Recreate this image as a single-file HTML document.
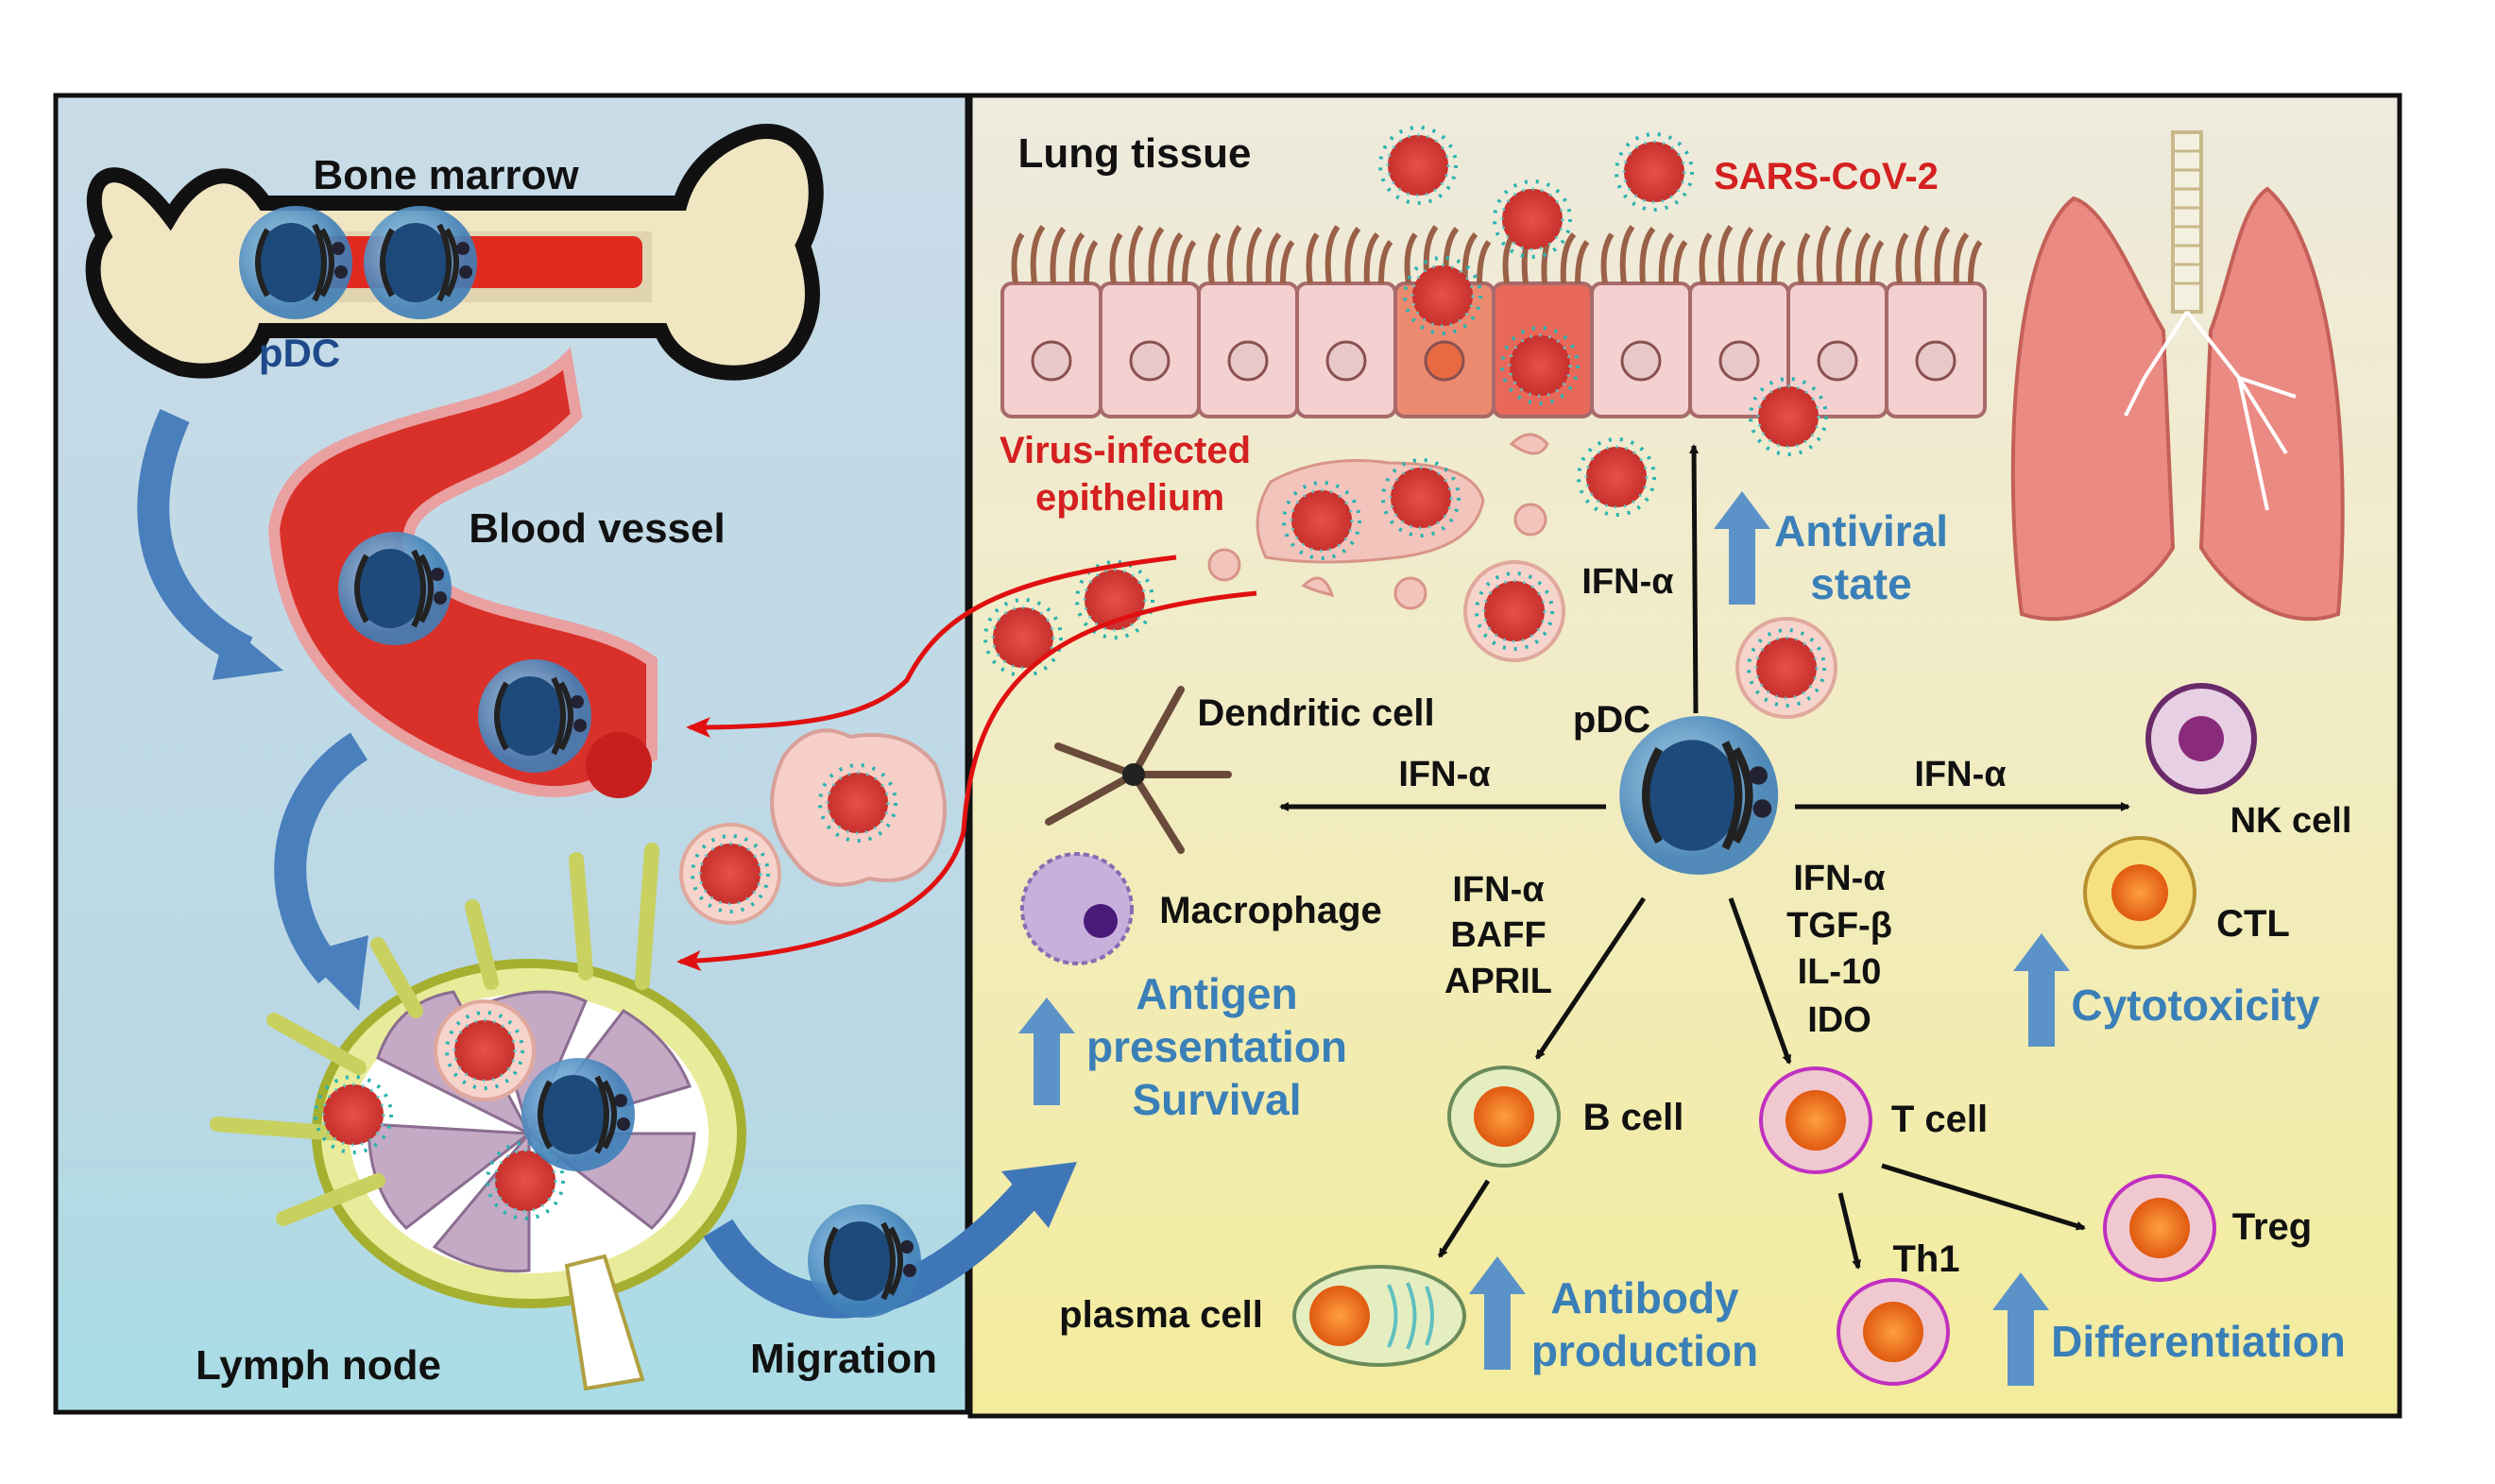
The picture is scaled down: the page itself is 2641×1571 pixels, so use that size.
<!DOCTYPE html>
<html><head><meta charset="utf-8"><style>
html,body{margin:0;padding:0;background:#fff;}
svg{display:block}
text{font-family:"Liberation Sans",sans-serif;font-weight:bold}
</style></head><body>
<svg width="2641" height="1571" viewBox="0 0 2641 1571" xmlns="http://www.w3.org/2000/svg">
<defs>
<linearGradient id="lb" x1="0" y1="0" x2="0" y2="1"><stop offset="0" stop-color="#c9dce8"/><stop offset="0.75" stop-color="#b9d8e4"/><stop offset="1" stop-color="#a9dde6"/></linearGradient>
<linearGradient id="rb" x1="0" y1="0" x2="0" y2="1"><stop offset="0" stop-color="#eeeadd"/><stop offset="0.45" stop-color="#f1ecc6"/><stop offset="1" stop-color="#f3ec9c"/></linearGradient>
<radialGradient id="vr"><stop offset="0" stop-color="#e8504a"/><stop offset="1" stop-color="#c8302c"/></radialGradient>
<g id="virus"><circle r="40" fill="none" stroke="#2bb3b0" stroke-width="4" stroke-dasharray="3 9"/><circle r="32" fill="url(#vr)"/><circle r="32" fill="none" stroke="#5cc" stroke-width="3" stroke-dasharray="2 8"/></g>
<g id="vbub"><circle r="52" fill="#f6d4cc" stroke="#e0a89c" stroke-width="4"/><use href="#virus"/></g>
<radialGradient id="pg" cx="0.4" cy="0.4"><stop offset="0" stop-color="#9fd0ee"/><stop offset="1" stop-color="#3f7fb8"/></radialGradient>
<g id="pdc"><circle r="60" fill="url(#pg)" opacity="0.9"/><ellipse cx="-5" cy="0" rx="36" ry="42" fill="#1d4a7a"/><path d="M-30 -35 Q-50 0 -30 35 M20 -40 Q40 0 20 40 M28 -35 Q48 0 28 35" stroke="#222" stroke-width="6" fill="none"/><circle cx="45" cy="-15" r="7" fill="#223"/><circle cx="48" cy="10" r="7" fill="#223"/></g>
<radialGradient id="og"><stop offset="0" stop-color="#ffa040"/><stop offset="1" stop-color="#e05a10"/></radialGradient>
<marker id="ah" markerWidth="10" markerHeight="10" refX="8" refY="5" orient="auto" markerUnits="userSpaceOnUse" viewBox="0 0 10 10"><path d="M0 0L10 5L0 10z" fill="#111"/></marker>
<marker id="ahr" markerWidth="26" markerHeight="22" refX="22" refY="11" orient="auto" markerUnits="userSpaceOnUse"><path d="M0 0L26 11L0 22L6 11z" fill="#e01010"/></marker>
<g id="barrow"><path d="M-14 0 L14 0 L14 -80 L30 -80 L0 -120 L-30 -80 L-14 -80 Z" fill="#5b93c8"/></g>
</defs>
<rect width="2641" height="1571" fill="#fff"/>
<rect x="59" y="101" width="965" height="1394" fill="url(#lb)" stroke="#111" stroke-width="5"/>
<rect x="1027" y="101" width="1513" height="1398" fill="url(#rb)" stroke="#111" stroke-width="5"/>

<!-- bone -->
<path d="M180 230 C120 150 80 190 110 250 C80 290 110 360 190 390 C240 400 270 380 280 350 L700 350 C720 400 800 410 840 370 C870 330 860 290 850 260 C880 200 860 130 800 140 C760 150 730 180 720 215 L280 215 C250 170 210 180 180 230Z" fill="#f1e6c2" stroke="#111" stroke-width="16"/>
<path d="M270 245 L690 245 L690 320 L270 320Z" fill="#c8b898" opacity="0.4"/>
<rect x="340" y="250" width="340" height="55" rx="10" fill="#e02a20"/>
<use href="#pdc" x="313" y="278"/><use href="#pdc" x="445" y="278"/>
<text x="472" y="200" font-size="44" text-anchor="middle" fill="#111">Bone marrow</text>
<text x="317" y="388" font-size="42" text-anchor="middle" fill="#1e4a8a">pDC</text>

<!-- blood vessel -->
<path d="M290 560 C300 490 360 470 420 450 C480 430 560 420 600 380 L610 440 C560 490 520 500 480 520 C440 540 420 560 440 600 C500 660 620 650 690 700 L690 800 C640 830 600 850 540 830 C420 790 300 720 290 560Z" fill="#d9302a" stroke="#e9a0a0" stroke-width="12"/>
<circle cx="655" cy="810" r="35" fill="#c81e1e"/>
<use href="#pdc" x="418" y="623"/><use href="#pdc" x="566" y="758"/>
<text x="632" y="574" font-size="44" text-anchor="middle" fill="#111">Blood vessel</text>

<path d="M185 440 C140 540 160 640 260 690" stroke="#4a7fbd" stroke-width="34" fill="none"/><path d="M240 660 L300 710 L225 720Z" fill="#4a7fbd"/>
<path d="M380 790 C300 840 280 950 350 1030" stroke="#4a7fbd" stroke-width="34" fill="none"/><path d="M320 1010 L380 1070 L390 990Z" fill="#4a7fbd"/>

<!-- lymph node -->
<ellipse cx="560" cy="1200" rx="225" ry="180" fill="#e8ec9a" stroke="#a6b030" stroke-width="10"/>
<ellipse cx="560" cy="1200" rx="190" ry="148" fill="#fff"/>
<g fill="#c4aac4" stroke="#8a6d90" stroke-width="3">
<path d="M560 1200 L400 1120 Q420 1060 480 1050Z"/><path d="M560 1200 L520 1060 Q580 1040 620 1060Z"/><path d="M560 1200 L660 1070 Q710 1100 730 1150Z"/><path d="M560 1200 L735 1200 Q730 1260 690 1300Z"/><path d="M560 1200 L390 1190 Q390 1260 430 1300Z"/><path d="M560 1200 L460 1320 Q510 1350 560 1345Z"/>
</g>
<path d="M600 1340 L620 1470 L680 1460 L640 1330Z" fill="#fff" stroke="#b0a040" stroke-width="4"/>
<g stroke="#c8d060" stroke-width="16" stroke-linecap="round" fill="none"><path d="M520 1040 L500 960"/><path d="M620 1030 L610 910"/><path d="M680 1040 L690 900"/><path d="M440 1070 L400 1000"/><path d="M380 1130 L290 1080"/><path d="M360 1200 L230 1190"/><path d="M400 1250 L300 1290"/></g>
<use href="#vbub" x="513" y="1112"/><use href="#virus" x="374" y="1180"/><use href="#virus" x="556" y="1250"/>
<use href="#pdc" x="612" y="1180"/>
<text x="337" y="1460" font-size="44" text-anchor="middle" fill="#111">Lymph node</text>
<path d="M760 1300 C820 1400 950 1420 1090 1260" stroke="#3f76b8" stroke-width="36" fill="none"/><path d="M1060 1240 L1140 1230 L1110 1300Z" fill="#3f76b8"/>
<use href="#pdc" x="915" y="1335"/>
<text x="893" y="1453" font-size="44" text-anchor="middle" fill="#111">Migration</text>

<!-- epithelium -->
<g stroke="#a86a6a" stroke-width="4">
<rect x="1061" y="300" width="104" height="141" rx="10" fill="#f4d0d0"/>
<rect x="1165" y="300" width="104" height="141" rx="10" fill="#f4d0d0"/>
<rect x="1269" y="300" width="104" height="141" rx="10" fill="#f4d0d0"/>
<rect x="1373" y="300" width="104" height="141" rx="10" fill="#f4d0d0"/>
<rect x="1477" y="300" width="104" height="141" rx="10" fill="#ec8a70"/>
<rect x="1581" y="300" width="104" height="141" rx="10" fill="#e8685a"/>
<rect x="1685" y="300" width="104" height="141" rx="10" fill="#f4d0d0"/>
<rect x="1789" y="300" width="104" height="141" rx="10" fill="#f4d0d0"/>
<rect x="1893" y="300" width="104" height="141" rx="10" fill="#f4d0d0"/>
<rect x="1997" y="300" width="104" height="141" rx="10" fill="#f4d0d0"/>
</g>
<g fill="#e8c8c8" stroke="#8a5050" stroke-width="3">
<circle cx="1113" cy="382" r="20"/><circle cx="1217" cy="382" r="20"/><circle cx="1321" cy="382" r="20"/><circle cx="1425" cy="382" r="20"/><circle cx="1529" cy="382" r="20" fill="#e86a40"/><circle cx="1737" cy="382" r="20"/><circle cx="1841" cy="382" r="20"/><circle cx="1945" cy="382" r="20"/><circle cx="2049" cy="382" r="20"/>
</g>
<g stroke="#9a6048" stroke-width="6" fill="none">
<path d="M1075 300 Q1070 265 1082 248 M1095 300 Q1090 258 1104 240 M1115 300 Q1112 258 1126 242 M1135 300 Q1133 262 1146 248 M1150 300 Q1150 268 1160 256"/>
<path d="M1179 300 Q1174 265 1186 248 M1199 300 Q1194 258 1208 240 M1219 300 Q1216 258 1230 242 M1239 300 Q1237 262 1250 248 M1254 300 Q1254 268 1264 256"/>
<path d="M1283 300 Q1278 265 1290 248 M1303 300 Q1298 258 1312 240 M1323 300 Q1320 258 1334 242 M1343 300 Q1341 262 1354 248 M1358 300 Q1358 268 1368 256"/>
<path d="M1387 300 Q1382 265 1394 248 M1407 300 Q1402 258 1416 240 M1427 300 Q1424 258 1438 242 M1447 300 Q1445 262 1458 248 M1462 300 Q1462 268 1472 256"/>
<path d="M1491 300 Q1486 265 1498 248 M1511 300 Q1506 258 1520 240 M1531 300 Q1528 258 1542 242 M1551 300 Q1549 262 1562 248 M1566 300 Q1566 268 1576 256"/>
<path d="M1595 300 Q1590 265 1602 248 M1615 300 Q1610 258 1624 240 M1635 300 Q1632 258 1646 242 M1655 300 Q1653 262 1666 248 M1670 300 Q1670 268 1680 256"/>
<path d="M1699 300 Q1694 265 1706 248 M1719 300 Q1714 258 1728 240 M1739 300 Q1736 258 1750 242 M1759 300 Q1757 262 1770 248 M1774 300 Q1774 268 1784 256"/>
<path d="M1803 300 Q1798 265 1810 248 M1823 300 Q1818 258 1832 240 M1843 300 Q1840 258 1854 242 M1863 300 Q1861 262 1874 248 M1878 300 Q1878 268 1888 256"/>
<path d="M1907 300 Q1902 265 1914 248 M1927 300 Q1922 258 1936 240 M1947 300 Q1944 258 1958 242 M1967 300 Q1965 262 1978 248 M1982 300 Q1982 268 1992 256"/>
<path d="M2011 300 Q2006 265 2018 248 M2031 300 Q2026 258 2040 240 M2051 300 Q2048 258 2062 242 M2071 300 Q2069 262 2082 248 M2086 300 Q2086 268 2096 256"/>
</g>
<path d="M1345 510 Q1400 480 1470 490 Q1560 490 1570 530 Q1560 580 1480 590 Q1400 600 1340 590 Q1320 550 1345 510Z" fill="#f3c4bc" stroke="#d89488" stroke-width="3"/>
<g fill="#f3c4bc" stroke="#d89488" stroke-width="3"><circle cx="1296" cy="598" r="16"/><circle cx="1620" cy="550" r="16"/><circle cx="1493" cy="628" r="16"/><path d="M1380 620 q20 -20 30 10 q-20 -5 -30 -10z"/><path d="M1600 470 q20 -20 38 0 q-10 20 -38 0z"/></g>
<use href="#virus" x="1501" y="175"/><use href="#virus" x="1751" y="182"/><use href="#virus" x="1622" y="232"/><use href="#virus" x="1527" y="313"/><use href="#virus" x="1630" y="387"/><use href="#virus" x="1893" y="441"/><use href="#virus" x="1711" y="505"/><use href="#virus" x="1399" y="551"/><use href="#virus" x="1504" y="527"/><use href="#vbub" x="1603" y="647"/><use href="#virus" x="1180" y="635"/><use href="#virus" x="1083" y="675"/><use href="#vbub" x="1891" y="707"/><use href="#vbub" x="773" y="925"/>
<path d="M830 800 Q860 760 900 780 Q960 770 990 810 Q1010 860 990 900 Q970 940 920 930 Q870 950 840 910 Q800 860 830 800Z" fill="#f6cfc8" stroke="#d8a098" stroke-width="4"/>
<use href="#virus" x="908" y="850"/>
<path d="M1245 590 C1080 610 1000 640 960 720 C920 760 850 770 730 770" stroke="#e01010" stroke-width="5" fill="none" marker-end="url(#ahr)"/>
<path d="M1330 628 C1100 650 1030 730 1020 880 C1000 960 900 1010 720 1018" stroke="#e01010" stroke-width="5" fill="none" marker-end="url(#ahr)"/>

<!-- lungs -->
<path d="M2300 140 L2330 140 L2330 330 L2300 330Z" fill="#f4f0e0" stroke="#c8b88a" stroke-width="4"/>
<path d="M2300 160 H2330 M2300 180 H2330 M2300 200 H2330 M2300 220 H2330 M2300 240 H2330 M2300 260 H2330 M2300 280 H2330 M2300 300 H2330" stroke="#c8b88a" stroke-width="3"/>
<path d="M2195 210 C2130 260 2120 500 2140 650 C2200 670 2270 630 2300 580 L2290 350 C2260 300 2230 220 2195 210Z" fill="#ea8a82" stroke="#c46058" stroke-width="4"/>
<path d="M2400 200 C2470 260 2490 480 2475 650 C2420 670 2360 630 2330 580 L2340 350 C2360 300 2370 220 2400 200Z" fill="#ea8a82" stroke="#c46058" stroke-width="4"/>
<path d="M2315 330 L2270 400 M2315 330 L2370 400 L2420 480 M2370 400 L2400 540 M2370 400 L2430 420 M2270 400 L2250 440" stroke="#fff" stroke-width="4" fill="none"/>

<text x="1201" y="177" font-size="44" text-anchor="middle" fill="#111">Lung tissue</text>
<text x="1933" y="200" font-size="40" text-anchor="middle" fill="#d42020">SARS-CoV-2</text>
<text x="1191" y="490" font-size="40" text-anchor="middle" fill="#d42020">Virus-infected</text>
<text x="1196" y="540" font-size="40" text-anchor="middle" fill="#d42020">epithelium</text>

<use href="#pdc" x="1798" y="842" transform="translate(-719 -336.8) scale(1.4)"/>
<text x="1706" y="775" font-size="40" text-anchor="middle" fill="#111">pDC</text>
<g stroke="#111" stroke-width="5" fill="none" marker-end="url(#ah)">
<line x1="1795" y1="755" x2="1793" y2="472"/>
<line x1="1700" y1="854" x2="1356" y2="854"/>
<line x1="1900" y1="854" x2="2253" y2="854"/>
<line x1="1740" y1="951" x2="1627" y2="1120"/>
<line x1="1832" y1="951" x2="1894" y2="1125"/>
<line x1="1575" y1="1250" x2="1524" y2="1330"/>
<line x1="1948" y1="1263" x2="1967" y2="1342"/>
<line x1="1992" y1="1234" x2="2206" y2="1300"/>
</g>
<text x="1723" y="628" font-size="38" text-anchor="middle" fill="#111">IFN-α</text>
<text x="1529" y="832" font-size="38" text-anchor="middle" fill="#111">IFN-α</text>
<text x="2075" y="832" font-size="38" text-anchor="middle" fill="#111">IFN-α</text>
<g font-size="38" text-anchor="middle" fill="#111"><text x="1586" y="954">IFN-α</text><text x="1586" y="1002">BAFF</text><text x="1586" y="1051">APRIL</text>
<text x="1947" y="942">IFN-α</text><text x="1947" y="992">TGF-β</text><text x="1947" y="1041">IL-10</text><text x="1947" y="1092">IDO</text></g>

<g stroke="#6a4a3a" stroke-width="8" stroke-linecap="round" fill="none"><path d="M1200 820 L1250 730 M1200 820 L1300 820 M1200 820 L1110 870 M1200 820 L1120 790 M1200 820 L1250 900"/></g>
<circle cx="1200" cy="820" r="12" fill="#222"/>
<text x="1393" y="768" font-size="40" text-anchor="middle" fill="#111">Dendritic cell</text>
<circle cx="1140" cy="962" r="58" fill="#c8b0dc" stroke="#8a6ab0" stroke-width="4" stroke-dasharray="6 4"/><circle cx="1165" cy="975" r="18" fill="#4a1a7a"/>
<text x="1345" y="977" font-size="40" text-anchor="middle" fill="#111">Macrophage</text>
<circle cx="2330" cy="782" r="56" fill="#e8d0e4" stroke="#6a2a6a" stroke-width="6"/><circle cx="2330" cy="782" r="24" fill="#8a2a7a"/>
<text x="2425" y="881" font-size="38" text-anchor="middle" fill="#111">NK cell</text>
<circle cx="2265" cy="945" r="58" fill="#f6e080" stroke="#b89030" stroke-width="4"/><circle cx="2265" cy="945" r="30" fill="url(#og)"/>
<text x="2385" y="991" font-size="40" text-anchor="middle" fill="#111">CTL</text>
<ellipse cx="1592" cy="1182" rx="58" ry="52" fill="#e4eec0" stroke="#6a8a5a" stroke-width="4"/><circle cx="1592" cy="1182" r="32" fill="url(#og)"/>
<text x="1729" y="1196" font-size="40" text-anchor="middle" fill="#111">B cell</text>
<ellipse cx="1922" cy="1186" rx="58" ry="55" fill="#f0c8d0" stroke="#c030c0" stroke-width="4"/><circle cx="1922" cy="1186" r="32" fill="url(#og)"/>
<text x="2053" y="1198" font-size="40" text-anchor="middle" fill="#111">T cell</text>
<ellipse cx="2286" cy="1300" rx="58" ry="55" fill="#f0c8d0" stroke="#c030c0" stroke-width="4"/><circle cx="2286" cy="1300" r="32" fill="url(#og)"/>
<text x="2405" y="1312" font-size="40" text-anchor="middle" fill="#111">Treg</text>
<ellipse cx="2004" cy="1410" rx="58" ry="55" fill="#f0c8d0" stroke="#c030c0" stroke-width="4"/><circle cx="2004" cy="1410" r="32" fill="url(#og)"/>
<text x="2039" y="1346" font-size="40" text-anchor="middle" fill="#111">Th1</text>
<ellipse cx="1460" cy="1393" rx="90" ry="52" fill="#e4eec0" stroke="#6a8a5a" stroke-width="4"/><circle cx="1418" cy="1393" r="32" fill="url(#og)"/>
<path d="M1470 1360 q15 33 0 66 M1490 1358 q15 35 0 70 M1510 1362 q12 31 0 62" stroke="#60c0c0" stroke-width="4" fill="none"/>
<text x="1229" y="1405" font-size="40" text-anchor="middle" fill="#111">plasma cell</text>

<use href="#barrow" x="1844" y="640"/>
<use href="#barrow" transform="translate(1108 1170) scale(1 0.95)"/>
<use href="#barrow" x="1585" y="1450"/>
<use href="#barrow" x="2161" y="1108"/>
<use href="#barrow" x="2139" y="1467"/>
<g font-size="46" text-anchor="middle" fill="#3a7fb8">
<text x="1970" y="578">Antiviral</text><text x="1970" y="634">state</text>
<text x="1288" y="1068">Antigen</text><text x="1288" y="1124">presentation</text><text x="1288" y="1180">Survival</text>
<text x="1741" y="1390">Antibody</text><text x="1741" y="1446">production</text>
<text x="2324" y="1080">Cytotoxicity</text>
<text x="2327" y="1436">Differentiation</text>
</g>
</svg>
</body></html>
